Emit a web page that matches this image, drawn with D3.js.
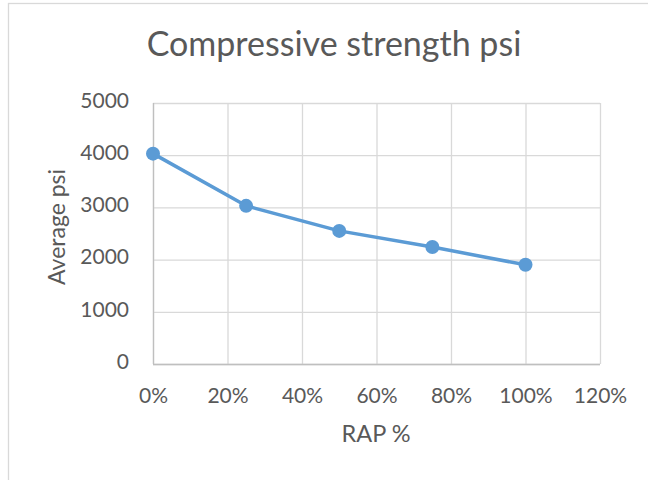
<!DOCTYPE html>
<html>
<head>
<meta charset="utf-8">
<script src="https://cdn.jsdelivr.net/npm/d3@7"></script>
<style>
  html, body { margin: 0; padding: 0; background: #fff; }
  svg { display: block; }
  text { font-family: Lato, "Open Sans", sans-serif; fill: #595959; }
</style>
</head>
<body>
<svg id="chart" width="648" height="480"></svg>
<script>
// RAP replacement level (fraction) and averaged compressive strength (psi)
const rapLevels = [0, 0.25, 0.5, 0.75, 1.0];
const avgPsi = [4030, 3030, 2550, 2240, 1900];
const xTicks = [0, 0.2, 0.4, 0.6, 0.8, 1.0, 1.2];
const yTicks = [0, 1000, 2000, 3000, 4000, 5000];
const chartTitle = "Compressive strength psi";
const xTitle = "RAP %";
const yTitle = "Average psi";

const svg = d3.select("#chart");
const W = 648, H = 480;
const plot = { left: 153, right: 600, top: 103, bottom: 364 };

// chart frame
svg.append("rect")
  .attr("x", 8.5).attr("y", 3.5)
  .attr("width", W).attr("height", H)
  .attr("fill", "#fff").attr("stroke", "#d9d9d9").attr("stroke-width", 1.3);

const x = d3.scaleLinear().domain([0, 1.2]).range([plot.left, plot.right]);
const y = d3.scaleLinear().domain([0, 5000]).range([plot.bottom, plot.top]);

// gridlines
const grid = svg.append("g");
grid.selectAll(".hg").data(yTicks).join("line")
  .attr("x1", plot.left).attr("x2", plot.right)
  .attr("y1", d => y(d) + 0.5).attr("y2", d => y(d) + 0.5)
  .attr("stroke", "#d9d9d9").attr("stroke-width", 1.3);
grid.selectAll(".vg").data(xTicks).join("line")
  .attr("x1", d => x(d) + 0.5).attr("x2", d => x(d) + 0.5)
  .attr("y1", plot.top).attr("y2", plot.bottom)
  .attr("stroke", "#d9d9d9").attr("stroke-width", 1.3);
// base axis lines
svg.append("line")
  .attr("x1", plot.left).attr("x2", plot.right)
  .attr("y1", plot.bottom + 0.5).attr("y2", plot.bottom + 0.5)
  .attr("stroke", "#bfbfbf").attr("stroke-width", 1.3);
svg.append("line")
  .attr("x1", plot.left + 0.5).attr("x2", plot.left + 0.5)
  .attr("y1", plot.top).attr("y2", plot.bottom)
  .attr("stroke", "#bfbfbf").attr("stroke-width", 1.3);

// axes (labels only)
const tickFont = 21;
const yAxis = d3.axisLeft(y).tickValues(yTicks).tickSize(0).tickPadding(24)
  .tickFormat(d3.format("d"));
const yg = svg.append("g").attr("transform", `translate(${plot.left},0)`).call(yAxis);
yg.select(".domain").remove();
yg.selectAll("text")
  .attr("dy", "0.2em")
  .style("font-family", "Lato, sans-serif")
  .style("font-size", tickFont + "px")
  .style("fill", "#595959");

const xAxis = d3.axisBottom(x).tickValues(xTicks).tickSize(0).tickPadding(24)
  .tickFormat(d3.format(".0%"));
const xg = svg.append("g").attr("transform", `translate(0,${plot.bottom})`).call(xAxis);
xg.select(".domain").remove();
xg.selectAll("text")
  .style("font-family", "Lato, sans-serif")
  .style("font-size", tickFont + "px")
  .style("fill", "#595959");

// series line
const line = d3.line().x((d, i) => x(rapLevels[i])).y(d => y(d));
svg.append("path").datum(avgPsi)
  .attr("d", line)
  .attr("fill", "none")
  .attr("stroke", "#5b9bd5")
  .attr("stroke-width", 3.5)
  .attr("stroke-linejoin", "round");

svg.selectAll(".pt").data(avgPsi).join("circle")
  .attr("cx", (d, i) => x(rapLevels[i]))
  .attr("cy", d => y(d))
  .attr("r", 7)
  .attr("fill", "#5b9bd5");

// titles
svg.append("text")
  .attr("x", 334).attr("y", 56)
  .attr("text-anchor", "middle")
  .style("font-size", "34px")
  .text(chartTitle);

svg.append("text")
  .attr("x", 376).attr("y", 442)
  .attr("text-anchor", "middle")
  .style("font-size", "23.5px")
  .text(xTitle);

svg.append("text")
  .attr("transform", "translate(65,227) rotate(-90)")
  .attr("text-anchor", "middle")
  .style("font-size", "23px")
  .text(yTitle);
</script>
</body>
</html>
